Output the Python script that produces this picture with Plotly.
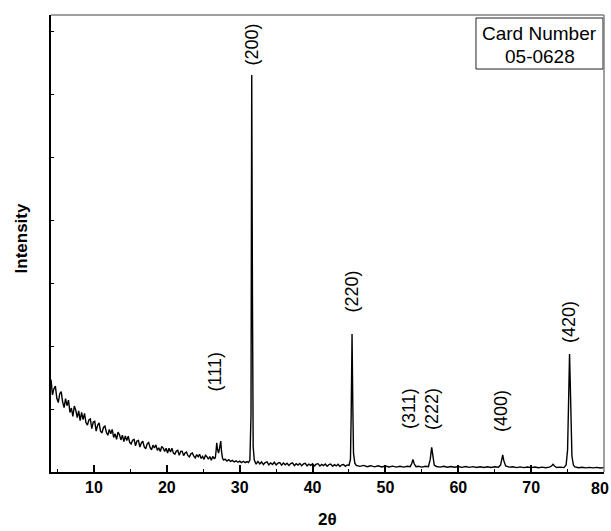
import plotly.graph_objects as go

# ---- data (2theta in degrees, intensity in arbitrary units) ----
TWO_THETA = [
    4.1, 4.3, 4.5, 4.7, 4.9, 5.1, 5.3, 5.5, 5.7, 5.9,
    6.1, 6.3, 6.5, 6.7, 6.9, 7.1, 7.3, 7.5, 7.7, 7.9,
    8.1, 8.3, 8.5, 8.7, 8.9, 9.1, 9.3, 9.5, 9.7, 9.9,
    10.1, 10.3, 10.5, 10.7, 10.9, 11.1, 11.3, 11.5, 11.7, 11.9,
    12.1, 12.3, 12.5, 12.7, 12.9, 13.1, 13.3, 13.5, 13.7, 13.9,
    14.1, 14.3, 14.5, 14.7, 14.9, 15.1, 15.3, 15.5, 15.7, 15.9,
    16.1, 16.3, 16.5, 16.7, 16.9, 17.1, 17.3, 17.5, 17.7, 17.9,
    18.1, 18.3, 18.5, 18.7, 18.9, 19.1, 19.3, 19.5, 19.7, 19.9,
    20.1, 20.3, 20.5, 20.7, 20.9, 21.1, 21.3, 21.5, 21.7, 21.9,
    22.1, 22.3, 22.5, 22.7, 22.9, 23.1, 23.3, 23.5, 23.7, 23.9,
    24.1, 24.3, 24.5, 24.7, 24.9, 25.1, 25.3, 25.5, 25.7, 25.9,
    26.1, 26.3,
    26.50, 26.65, 26.75, 26.85, 26.95, 27.10, 27.25, 27.40, 27.50, 27.65,
    27.80, 28.00, 28.25, 28.50, 28.75, 29.00, 29.25, 29.50, 29.75, 30.00,
    30.25, 30.50, 30.75, 31.00, 31.20, 31.40, 31.55, 31.65, 31.75, 31.85,
    32.00, 32.25, 32.50, 32.75, 33.00, 33.25, 33.50, 33.75, 34.00, 34.25,
    34.50, 34.75, 35.00, 35.25, 35.50, 35.75, 36.00, 36.25, 36.50, 36.75,
    37.00, 37.25, 37.50, 37.75, 38.00, 38.25, 38.50, 38.75, 39.00, 39.25,
    39.50, 39.75, 40.00, 40.25, 40.50, 40.75, 41.00, 41.25, 41.50, 41.75,
    42.00, 42.25, 42.50, 42.75, 43.00, 43.25, 43.50, 43.75, 44.00, 44.25,
    44.50, 44.75, 45.00, 45.20, 45.30,
    45.42, 45.52, 45.62, 45.80, 46.00, 46.50, 47.00, 47.50, 48.00, 48.50,
    49.00, 49.50, 50.00, 50.50, 51.00, 51.50, 52.00, 52.50, 53.00, 53.40,
    53.60, 53.78, 53.95, 54.20, 54.50, 55.00, 55.50, 55.90, 56.15, 56.35,
    56.50, 56.70, 57.00, 57.50, 58.00, 58.50, 59.00, 59.50, 60.00, 60.50,
    61.00, 61.50, 62.00, 62.50, 63.00, 63.50, 64.00, 64.50, 65.00, 65.50,
    65.80, 66.00, 66.10, 66.25, 66.50, 67.00, 67.50, 68.00, 68.50, 69.00,
    69.50, 70.00, 70.50, 71.00, 71.50, 72.00, 72.50, 72.80, 73.00, 73.20,
    73.50, 74.00, 74.50, 74.80, 75.00, 75.12, 75.27, 75.35, 75.45, 75.60,
    75.80, 76.00, 76.50, 77.00, 77.50, 78.00, 78.50, 79.00, 79.50, 80.00,
]
INTENSITY = [
    1468, 1225, 1323, 1362, 1170, 1101, 1243, 1275, 1110, 1023,
    1165, 1052, 1140, 945, 1015, 881, 1046, 983, 863, 970,
    817, 945, 833, 929, 785, 745, 825, 842, 690, 794,
    804, 649, 742, 779, 648, 620, 707, 728, 632, 582,
    676, 608, 676, 549, 605, 517, 632, 590, 509, 584,
    481, 572, 498, 567, 471, 446, 505, 519, 417, 492,
    501, 395, 461, 488, 398, 370, 447, 468, 390, 351,
    427, 381, 430, 344, 384, 326, 407, 379, 324, 378,
    302, 378, 319, 377, 300, 283, 332, 345, 264, 327,
    328, 260, 301, 317, 259, 241, 289, 301, 251, 224,
    277, 242, 281, 215, 247, 201, 265, 244, 202, 245,
    186, 246,
    214, 225, 330, 465, 360, 300, 390, 492, 330, 215,
    190, 205, 175, 195, 168, 185, 160, 178, 155, 172,
    150, 170, 148, 165, 150, 190, 900, 6300, 2800, 400,
    190, 125, 168, 130, 160, 118, 150, 162, 115, 145,
    120, 155, 112, 140, 150, 108, 142, 115, 138, 105,
    135, 145, 102, 132, 110, 136, 100, 128, 138, 98,
    126, 105, 130, 96, 124, 132, 95, 120, 100, 126,
    92, 118, 125, 90, 116, 96, 122, 88, 114, 120,
    90, 112, 105, 200, 900,
    2190, 1100, 300, 140, 105, 90, 105, 85, 100, 82,
    98, 80, 95, 80, 93, 78, 92, 78, 90, 85,
    130, 200, 130, 85, 92, 78, 90, 85, 200, 392,
    250, 110, 88, 78, 90, 76, 88, 75, 87, 74,
    86, 73, 85, 72, 84, 72, 83, 71, 82, 75,
    110, 220, 270, 180, 95, 78, 82, 70, 81, 70,
    80, 69, 79, 68, 78, 68, 77, 95, 122, 95,
    72, 78, 70, 110, 350, 1000, 1873, 1500, 700, 250,
    110, 80, 68, 76, 66, 74, 65, 73, 64, 70,
]
assert len(TWO_THETA) == len(INTENSITY)

PEAK_LABELS = ["(111)", "(200)", "(220)", "(311)", "(222)", "(400)", "(420)"]
LABEL_2THETA = [26.6, 31.69, 45.41, 53.24, 56.39, 65.86, 75.2]
LABEL_INTENSITY = [1595, 6786, 2865, 1000, 1000, 968, 2381]

X_TICKS = [10, 20, 30, 40, 50, 60, 70, 80]
X_TICK_TEXT = ["10", "20", "30", "40", "50", "60", "70", "80"]
X_MINOR_TICKS = [5, 15, 25, 35, 45, 55, 65, 75]
CARD_TEXT = ["Card Number", "05-0628"]

FONT = "Liberation Sans, Arial, sans-serif"
TICK_FONT = dict(family=FONT, size=16, color="black", weight="bold")

fig = go.Figure()
fig.add_trace(go.Scatter(
    x=TWO_THETA, y=INTENSITY, mode="lines",
    line=dict(color="black", width=1.4), showlegend=False, hoverinfo="skip",
))

for lab, lx, ly in zip(PEAK_LABELS, LABEL_2THETA, LABEL_INTENSITY):
    fig.add_annotation(x=lx, y=ly, xref="x", yref="y", text=lab, textangle=-90,
                       showarrow=False, xanchor="center", yanchor="middle",
                       font=dict(family=FONT, size=18, color="black"))

# card number box
fig.add_shape(type="rect", xref="paper", yref="paper",
              x0=0.7685, x1=0.9982, y0=0.8818, y1=0.9934,
              line=dict(color="#222222", width=1), fillcolor="white", layer="above")
fig.add_annotation(xref="paper", yref="paper", x=0.8834, y=0.9606, text=CARD_TEXT[0],
                   showarrow=False, xanchor="center", yanchor="middle",
                   font=dict(family=FONT, size=19, color="black"))
fig.add_annotation(xref="paper", yref="paper", x=0.8834, y=0.9081, text=CARD_TEXT[1],
                   showarrow=False, xanchor="center", yanchor="middle",
                   font=dict(family=FONT, size=19, color="black"))

# mirror frame lines (grey, top and right)
fig.add_shape(type="line", xref="paper", yref="paper", x0=0, x1=1, y0=1, y1=1,
              line=dict(color="#808080", width=1.5), layer="above")
fig.add_shape(type="line", xref="paper", yref="paper", x0=1, x1=1, y0=0, y1=1,
              line=dict(color="#808080", width=1.5), layer="above")

# last tick label sits at the very right edge of the page: keep it fully inside
fig.add_annotation(xref="paper", yref="paper", x=1, xshift=7, y=0, yshift=-16,
                   text=X_TICK_TEXT[-1], showarrow=False, xanchor="right",
                   yanchor="middle", font=TICK_FONT)

# axis titles
fig.add_annotation(xref="paper", yref="paper", x=0.5, y=0, yshift=-47, text="2θ",
                   showarrow=False, xanchor="center", yanchor="middle",
                   font=dict(family=FONT, size=17, color="black", weight="bold"))
fig.add_annotation(xref="paper", yref="paper", x=0, y=0.511, xshift=-30, text="Intensity",
                   textangle=-90, showarrow=False, xanchor="center", yanchor="middle",
                   font=dict(family=FONT, size=17, color="black", weight="bold"))

fig.update_layout(
    width=611, height=531,
    margin=dict(l=51, r=7, t=15, b=59, pad=0, autoexpand=False),
    plot_bgcolor="white", paper_bgcolor="white",
    xaxis=dict(range=[4.1, 80.0001], tickvals=X_TICKS,
               ticktext=X_TICK_TEXT[:-1] + [""],
               ticks="inside", ticklen=7,
               tickwidth=1.5, tickcolor="black", showline=True, linecolor="black",
               linewidth=1.5, showgrid=False, zeroline=False, automargin=False,
               tickfont=TICK_FONT,
               minor=dict(tickvals=X_MINOR_TICKS, ticks="inside", ticklen=3,
                          tickwidth=1, tickcolor="black", showgrid=False)),
    yaxis=dict(range=[0, 7254], tick0=0, dtick=1000, ticks="inside", ticklen=3,
               tickwidth=1, tickcolor="black", showticklabels=False, showline=True,
               linecolor="black", linewidth=1.5, showgrid=False, zeroline=False,
               automargin=False),
)

fig.write_html("out.html")
